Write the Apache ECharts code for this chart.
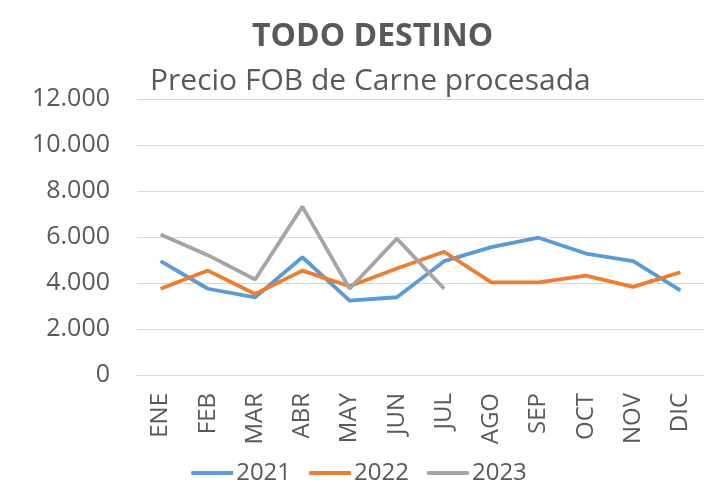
<!DOCTYPE html>
<html style="height: 100%">
<head>
    <meta charset="utf-8">
    <title>TODO DESTINO</title>
</head>
<body style="height: 100%; margin: 0">
<div id="container" style="width: 718px; height: 498px"></div>
<script type="text/javascript" src="https://cdn.jsdelivr.net/npm/echarts@6/dist/echarts.min.js"></script>
<script type="text/javascript">
var months = ['ENE', 'FEB', 'MAR', 'ABR', 'MAY', 'JUN', 'JUL', 'AGO', 'SEP', 'OCT', 'NOV', 'DIC'];
var years = ['2021', '2022', '2023'];
var v2021 = [4950, 3750, 3380, 5120, 3230, 3380, 4950, 5560, 5970, 5280, 4950, 3680];
var v2022 = [3750, 4540, 3520, 4540, 3860, 4630, 5360, 4030, 4030, 4320, 3830, 4470];
var v2023 = [6110, 5210, 4150, 7320, 3750, 5930, 3750];
var colors = ['#5B9BD5', '#ED7D31', '#A5A5A5'];

var dom = document.getElementById('container');
var myChart = echarts.init(dom);
var font = 'Open Sans';

// 2000 -> 2.000
function fmt(v) {
    return String(v).replace(/\B(?=(\d{3})+(?!\d))/g, '.');
}

var option = {
    color: colors,
    title: [
        {
            text: 'TODO DESTINO',
            left: 247,
            top: 16,
            textStyle: { fontFamily: font, fontSize: 32, fontWeight: 'bold', color: '#595959' }
        },
        {
            text: 'Precio FOB de Carne procesada',
            left: 145,
            top: 61,
            textStyle: { fontFamily: font, fontSize: 30, fontWeight: 'normal', color: '#595959' }
        }
    ],
    legend: {
        bottom: 8,
        left: 'center',
        itemWidth: 42,
        itemHeight: 4,
        itemGap: 18,
        icon: 'roundRect',
        textStyle: { fontFamily: font, fontSize: 24, color: '#595959', padding: [0, 0, 0, -2] },
        data: years
    },
    grid: { left: 137, right: 14, top: 99, bottom: 123 },
    xAxis: {
        type: 'category',
        data: months,
        boundaryGap: true,
        axisLine: { lineStyle: { color: '#d9d9d9', width: 1 } },
        axisTick: { show: false },
        axisLabel: {
            rotate: 90,
            margin: 18,
            interval: 0,
            fontFamily: font,
            fontSize: 24,
            color: '#595959'
        }
    },
    yAxis: {
        type: 'value',
        min: 0,
        max: 12000,
        interval: 2000,
        axisLine: { show: false },
        axisTick: { show: false },
        splitLine: { lineStyle: { color: '#d9d9d9', width: 1 } },
        axisLabel: {
            margin: 27,
            fontFamily: font,
            fontSize: 25,
            color: '#595959',
            formatter: fmt
        }
    },
    series: [
        { name: years[0], type: 'line', data: v2021, symbol: 'none', lineStyle: { width: 3.8 } },
        { name: years[1], type: 'line', data: v2022, symbol: 'none', lineStyle: { width: 3.8 } },
        { name: years[2], type: 'line', data: v2023, symbol: 'none', lineStyle: { width: 3.8 } }
    ]
};

myChart.setOption(option);
</script>
</body>
</html>
